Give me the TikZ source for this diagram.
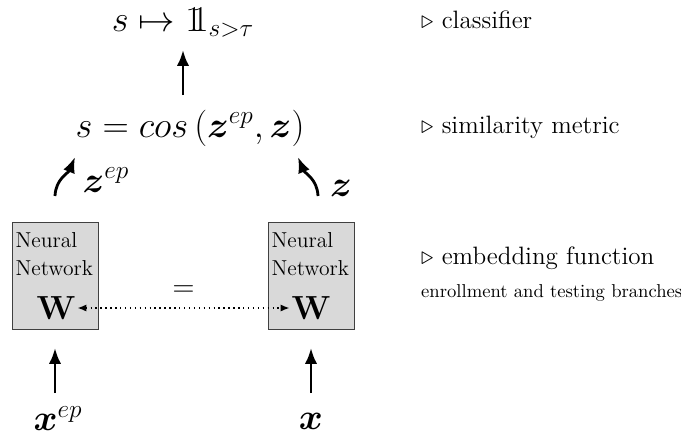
\documentclass[tikz,border=0pt]{standalone}
\usepackage{amsmath,amssymb,bm}
\usetikzlibrary{arrows.meta}
\newcommand{\indic}{\mathrm{1}\mkern-5mu\mathrm{1}}
\begin{document}
\begin{tikzpicture}[
    flow/.style={line width=1.6pt,-{Latex[length=9pt,width=7pt]}},
    nnbox/.style={draw=black!75,fill=black!15,minimum width=1.72cm,minimum height=2.14cm},
    big/.style={font=\fontsize{20}{24}\selectfont,inner sep=1pt},
    note/.style={anchor=west,font=\fontsize{14.3}{17}\selectfont}]
    \useasboundingbox (0,0) rectangle (13.62,8.82);
    % decision and score
    \node[big] (cls) at (3.66,8.37) {$s \mapsto \indic_{s>\tau}$};
    \node[big] (sim) at (3.80,6.26) {$s = cos\left(\bm{z}^{ep}, \bm{z}\right)$};
    \coordinate (clsin) at (3.66,6.92);
    \draw[flow] (clsin) -- (cls.south |- 0,7.82);
    % the two branches
    \node[nnbox] (nnl) at (1.10,3.31) {};
    \node[nnbox] (nnr) at (6.22,3.31) {};
    \foreach \b in {nnl,nnr} {
        \node[anchor=north west,align=left,inner sep=0pt,font=\fontsize{12.3}{16}\selectfont]
            at ([xshift=2pt,yshift=-6pt]\b.north west) {Neural\\Network};
    }
    \node[font=\fontsize{19}{22}\selectfont\bfseries,inner sep=1pt] (wl) at (1.12,2.66) {W};
    \node[font=\fontsize{19}{22}\selectfont\bfseries,inner sep=1pt] (wr) at (6.22,2.66) {W};
    \draw[dotted,thick,{Latex[length=5pt,width=4pt]}-{Latex[length=5pt,width=4pt]}] (wl) -- node[above=3pt,font=\fontsize{17}{20}\selectfont] {$=$} (wr);
    % embeddings
    \coordinate (el) at (1.10,4.90);
    \coordinate (er) at (6.36,4.90);
    \draw[flow] (el) to[out=88,in=-112] (1.50,5.68);
    \draw[flow] (er) to[out=92,in=-68] (5.96,5.68);
    \node[big] (zep) at (2.12,5.22) {$\bm{z}^{ep}$};
    \node[big] (z) at (6.82,5.05) {$\bm{z}$};
    % inputs
    \node[big] (xep) at (1.16,0.45) {$\bm{x}^{ep}$};
    \node[big] (x) at (6.22,0.40) {$\bm{x}$};
    \coordinate (xlin) at (1.10,0.96);
    \coordinate (xrin) at (6.22,0.96);
    \draw[flow] (xlin) -- (nnl.south |- 0,1.86);
    \draw[flow] (xrin) -- (nnr.south |- 0,1.86);
    % notes
    \node[note] (n1) at (8.30,8.42) {$\triangleright$ classifier};
    \node[note] (n2) at (8.30,6.28) {$\triangleright$ similarity metric};
    \node[note] (n3) at (8.30,3.66) {$\triangleright$ embedding function};
    \node[anchor=west,font=\fontsize{10.6}{13}\selectfont] (n4) at (8.30,2.96) {enrollment and testing branches};
\end{tikzpicture}
\end{document}
